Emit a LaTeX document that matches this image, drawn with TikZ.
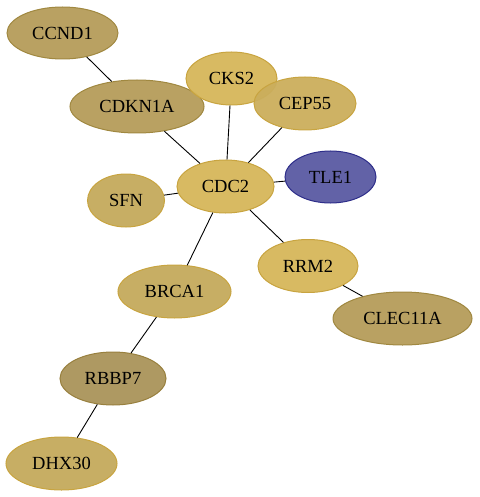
\documentclass[tikz,border=0pt]{standalone}
\usepackage{fontspec}
\setmainfont{Liberation Serif}
\usetikzlibrary{shapes.geometric}
\definecolor{khakiA}{HTML}{B59C5A}
\definecolor{khakiAb}{HTML}{A08840}
\definecolor{goldA}{HTML}{D6B65A}
\definecolor{goldAb}{HTML}{C8A440}
\definecolor{goldB}{HTML}{CBAE5C}
\definecolor{goldC}{HTML}{C4AA5C}
\definecolor{rbbp}{HTML}{AA935A}
\definecolor{rbbpb}{HTML}{98803E}
\definecolor{tleF}{HTML}{5A5AA2}
\definecolor{tleB}{HTML}{2E2E8A}
\tikzset{
  gene/.style={ellipse, draw, line width=1pt, inner sep=0pt, fill opacity=0.95, text opacity=1,
    font=\fontsize{18.5}{20}\selectfont},
  khaki/.style={gene, fill=khakiA, draw=khakiAb},
  gold/.style={gene, fill=goldA, draw=goldAb},
  goldb/.style={gene, fill=goldB, draw=goldAb},
  goldc/.style={gene, fill=goldC, draw=goldAb},
  dark/.style={gene, fill=rbbp, draw=rbbpb},
  blue/.style={gene, fill=tleF, draw=tleB},
  link/.style={draw=black, line width=0.9pt}
}
\begin{document}
\begin{tikzpicture}[x=1pt,y=-1pt]
\useasboundingbox (0,0) rectangle (479,497);
\node[khaki, minimum width=111pt, minimum height=52pt] (CCND1) at (62.5,33) {CCND1};
\node[khaki, minimum width=134pt, minimum height=53pt] (CDKN1A) at (137,106.5) {CDKN1A};
\node[gold, minimum width=91pt, minimum height=53pt] (CKS2) at (231.5,78.5) {CKS2};
\node[goldb, minimum width=102pt, minimum height=53pt] (CEP55) at (305,103.5) {CEP55};
\node[blue, minimum width=91pt, minimum height=52pt] (TLE1) at (330.5,177) {TLE1};
\node[gold, minimum width=97pt, minimum height=53pt] (CDC2) at (225.5,186.5) {CDC2};
\node[goldc, minimum width=77pt, minimum height=53pt] (SFN) at (126,200.5) {SFN};
\node[gold, minimum width=100pt, minimum height=53pt] (RRM2) at (308,266) {RRM2};
\node[khaki, minimum width=139pt, minimum height=53pt] (CLEC11A) at (402.5,318.5) {CLEC11A};
\node[goldc, minimum width=113pt, minimum height=53pt] (BRCA1) at (174.5,291.5) {BRCA1};
\node[dark, minimum width=106pt, minimum height=53pt] (RBBP7) at (113,378.5) {RBBP7};
\node[goldc, minimum width=111pt, minimum height=53pt] (DHX30) at (61.5,463.5) {DHX30};
\draw[link] (CCND1) -- (CDKN1A);
\draw[link] (CDKN1A) -- (CDC2);
\draw[link] (CKS2) -- (CDC2);
\draw[link] (CEP55) -- (CDC2);
\draw[link] (TLE1) -- (CDC2);
\draw[link] (SFN) -- (CDC2);
\draw[link] (CDC2) -- (RRM2);
\draw[link] (RRM2) -- (CLEC11A);
\draw[link] (CDC2) -- (BRCA1);
\draw[link] (BRCA1) -- (RBBP7);
\draw[link] (RBBP7) -- (DHX30);
\end{tikzpicture}
\end{document}
